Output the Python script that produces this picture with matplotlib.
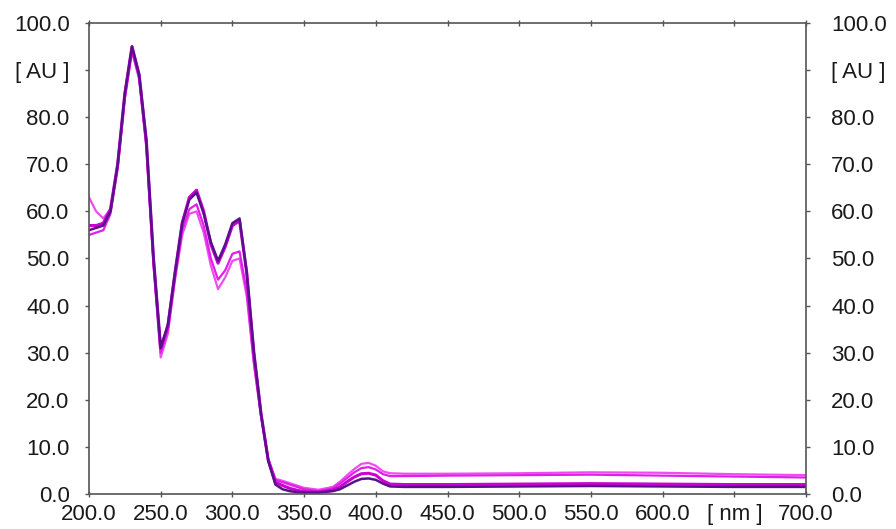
#!/usr/bin/env python3

import matplotlib
matplotlib.use('Agg')
import matplotlib.pyplot as plt

plt.rcParams['font.family'] = ['Liberation Sans', 'DejaVu Sans']

# wavelength grid [nm]
wl = [200, 205, 210, 215, 220, 225, 230, 235, 240, 245,
      250, 255, 260, 265, 270, 275, 280, 285, 290, 295,
      300, 305, 310, 315, 320, 325, 330, 335, 340, 345,
      350, 360, 370, 375, 380, 385, 390, 395, 400, 405,
      410, 420, 450, 500, 550, 600, 650, 700]

# absorbance [AU]
spec_dark = [56, 56.5, 57, 60, 70, 85, 95, 89, 75, 50,
             31, 36, 47, 57.5, 62.5, 64, 59.5, 53.5, 49.5, 53,
             57.5, 58.5, 47, 30, 17, 7, 2.0, 1.0, 0.6, 0.4,
             0.3, 0.3, 0.6, 1.0, 1.8, 2.6, 3.2, 3.3, 3.0, 2.2,
             1.6, 1.5, 1.5, 1.6, 1.7, 1.6, 1.5, 1.5]
spec_b = [57, 57, 57.5, 60.5, 70, 85, 95, 89, 75, 50,
          31, 35.5, 47, 57.5, 63, 64.5, 60, 53, 49, 52.5,
          57, 58, 47, 30, 17, 7.2, 2.5, 1.8, 1.2, 0.8,
          0.5, 0.4, 0.8, 1.5, 2.6, 3.6, 4.3, 4.4, 4.0, 2.8,
          2.1, 2.0, 2.0, 2.1, 2.2, 2.1, 2.0, 2.0]
spec_c = [55, 55.5, 56, 59.5, 69, 84, 94, 88.5, 74, 49,
          30, 35, 46, 56, 60.5, 61.5, 57, 50, 45.5, 47.5,
          51, 51.5, 43, 28, 16.5, 7.3, 3.0, 2.5, 2.0, 1.5,
          1.0, 0.6, 1.2, 2.2, 3.4, 4.6, 5.5, 5.7, 5.2, 4.2,
          3.8, 3.8, 3.9, 4.0, 4.1, 3.9, 3.7, 3.5]
spec_d = [63, 60, 58.5, 60.5, 69.5, 84, 94, 88, 73.5, 48.5,
          29, 34, 45.5, 55, 59.5, 60, 55.5, 48.5, 43.5, 46,
          49.5, 50, 42, 27.5, 16.5, 7.5, 3.2, 2.8, 2.3, 1.8,
          1.3, 0.9, 1.5, 2.6, 4.0, 5.3, 6.4, 6.6, 6.0, 4.8,
          4.4, 4.3, 4.3, 4.4, 4.6, 4.5, 4.2, 4.0]

xticks = [200, 250, 300, 350, 400, 450, 500, 550, 600, 650, 700]
xlabels = ['200.0', '250.0', '300.0', '350.0', '400.0', '450.0',
           '500.0', '550.0', '600.0', '[ nm ]', '700.0']
yticks = [0, 10, 20, 30, 40, 50, 60, 70, 80, 90, 100]
ylabels = ['0.0', '10.0', '20.0', '30.0', '40.0', '50.0',
           '60.0', '70.0', '80.0', '[ AU ]', '100.0']

fig = plt.figure(figsize=(8.96, 5.29), dpi=100)
ax = fig.add_axes([0.0993, 0.0662, 0.8003, 0.8903])

ax.plot(wl, spec_d, color='#f04cf0', lw=1.6)
ax.plot(wl, spec_c, color='#e020e8', lw=1.6)
ax.plot(wl, spec_b, color='#cc00d0', lw=2.2)
ax.plot(wl, spec_dark, color='#5a108c', lw=1.8)

ax.set_xlim(200, 700)
ax.set_ylim(0, 100)
ax.set_xticks(xticks)
ax.set_xticklabels(xlabels)
ax.set_yticks(yticks)
ax.set_yticklabels(ylabels)

for s in ax.spines.values():
	s.set_color('#555555')
	s.set_linewidth(1.2)

ax.tick_params(axis='x', direction='inout', length=4, width=1, color='#555555',
	labelsize=16, pad=5, top=True, labelcolor='#1a1a1a')
ax.tick_params(axis='y', direction='out', length=3, width=1, color='#555555',
	labelsize=16, pad=11, labelcolor='#1a1a1a')

ax2 = ax.twinx()
ax2.set_ylim(0, 100)
ax2.set_yticks(yticks)
ax2.set_yticklabels(ylabels)
ax2.tick_params(axis='y', direction='out', length=3, width=1, color='#555555',
	labelsize=16, pad=15, labelcolor='#1a1a1a')
for s in ax2.spines.values():
	s.set_visible(False)

fig.savefig('out.png', dpi=100)
